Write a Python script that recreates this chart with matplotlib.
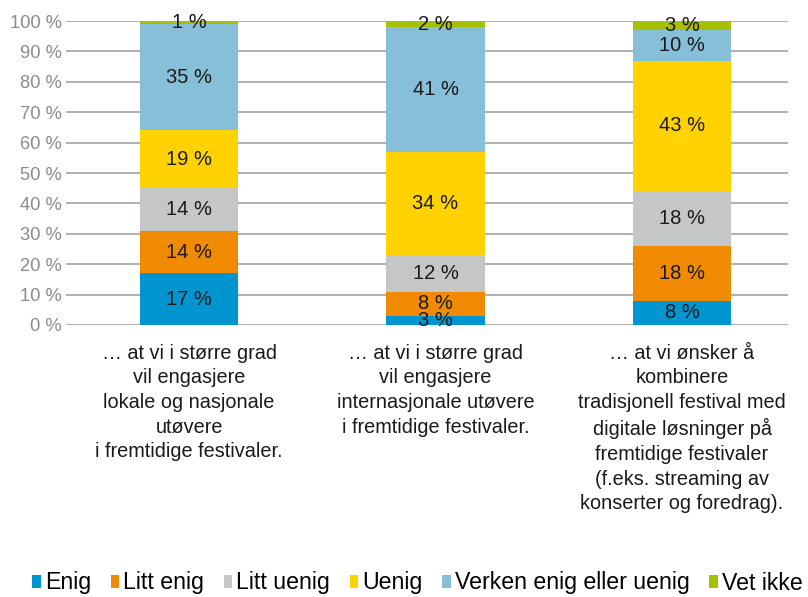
import matplotlib
matplotlib.use("Agg")
import matplotlib.pyplot as plt
from matplotlib.patches import Patch

plt.rcParams['font.family'] = ['Liberation Sans', 'DejaVu Sans']

categories = [
    "… at vi i større grad\nvil engasjere\nlokale og nasjonale\nutøvere\ni fremtidige festivaler.",
    "… at vi i større grad\nvil engasjere\ninternasjonale utøvere\ni fremtidige festivaler.",
    "… at vi ønsker å\nkombinere\ntradisjonell festival med\ndigitale løsninger på\nfremtidige festivaler\n(f.eks. streaming av\nkonserter og foredrag).",
]
series_names = ["Enig", "Litt enig", "Litt uenig", "Uenig", "Verken enig eller uenig", "Vet ikke"]
enig = [17, 3, 8]
litt_enig = [14, 8, 18]
litt_uenig = [14, 12, 18]
uenig = [19, 34, 43]
verken = [35, 41, 10]
vet_ikke = [1, 2, 3]
series_values = [enig, litt_enig, litt_uenig, uenig, verken, vet_ikke]
colors = ["#0094d1", "#f08a00", "#c5c6c6", "#ffd200", "#87bed8", "#a5c000"]
yticks = list(range(0, 101, 10))
ytick_labels = [f"{v} %" for v in yticks]

fig = plt.figure(figsize=(8.08, 5.97), dpi=100)
ax = fig.add_axes([66 / 808, 1 - 325 / 597, (788 - 66) / 808, (325 - 21) / 597])

x = list(range(len(categories)))
bottom = [0] * len(categories)
for name, vals, col in zip(series_names, series_values, colors):
    ax.bar(x, vals, width=0.4, bottom=bottom, color=col, zorder=3, label=name)
    for xi, b, v in zip(x, bottom, vals):
        ax.text(xi, b + v / 2, f"{v} %", ha="center", va="center",
                fontsize=14.5, color="#1a1a1a", zorder=4)
    bottom = [b + v for b, v in zip(bottom, vals)]

ax.set_xlim(-0.499, 2.43)
ax.set_ylim(0, 100)
ax.set_yticks(yticks)
ax.set_yticklabels(ytick_labels, fontsize=13.2, color="#8c8c8c")
ax.tick_params(axis="y", length=0, pad=3)
ax.tick_params(axis="x", length=0)
ax.set_xticks([])
ax.grid(axis="y", color="#aaaaaa", linewidth=1.3, zorder=0)
for s in ax.spines.values():
    s.set_visible(False)

for xi, label in zip(x, categories):
    ax.annotate(label, xy=(xi, 0), xycoords=("data", "axes fraction"),
                xytext=(0, -13.5), textcoords="offset points",
                ha="center", va="top", fontsize=14.3, color="#1a1a1a",
                linespacing=1.375, annotation_clip=False)

handles = [Patch(facecolor=c, edgecolor="none") for c in colors]
fig.legend(handles, series_names, loc="center left", bbox_to_anchor=(0.04, 1 - 583 / 597),
           ncol=6, frameon=False, fontsize=16.7, handlelength=0.36, handleheight=0.5,
           handletextpad=0.18, columnspacing=0.85, borderaxespad=0, borderpad=0)

fig.savefig("out.png", dpi=100)
